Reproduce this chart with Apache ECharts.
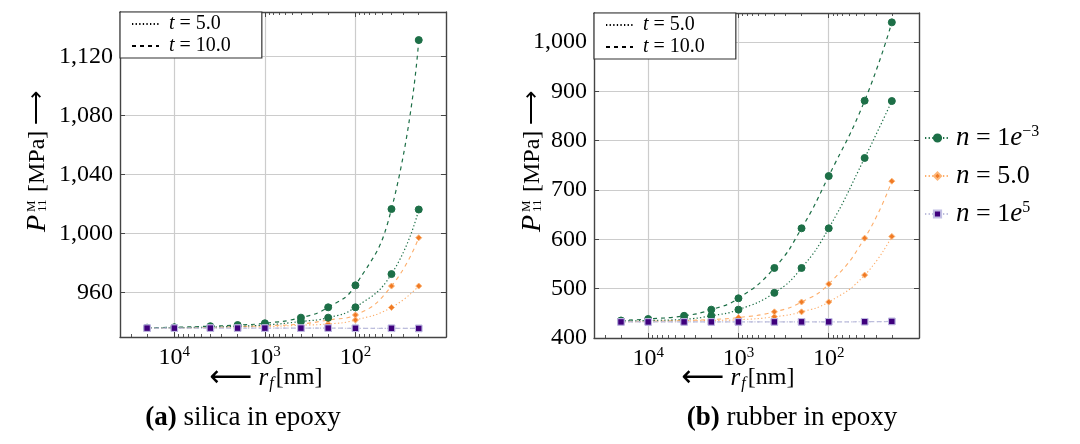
<!DOCTYPE html>
<html><head><meta charset="utf-8">
<script src="https://cdn.jsdelivr.net/npm/echarts@6/dist/echarts.min.js"></script>
<style>html,body{margin:0;padding:0;background:#fff}#c{width:1080px;height:444px}</style>
</head><body><div id="c"></div>
<script>
// ---------- data ----------
const radii = [20000, 10000, 4000, 2000, 1000, 400, 200, 100, 40, 20];

const silicaN1T5  = [936.1, 936.3, 936.7, 937.3, 938.1, 940.5, 943.1, 950.1, 972.6, 1016.3];
const silicaN1T10 = [936.3, 936.6, 937.3, 938.1, 939.3, 943.1, 950.1, 965.0, 1016.6, 1131.0];
const silicaN2T5  = [936.0, 936.1, 936.3, 936.6, 937.0, 938.0, 938.8, 941.5, 950.0, 964.5];
const silicaN2T10 = [936.1, 936.2, 936.5, 937.0, 937.6, 938.8, 941.5, 944.9, 964.5, 997.2];
const silicaN3T5  = [936.0, 936.0, 936.0, 936.0, 936.0, 936.0, 936.0, 935.9, 935.9, 935.8];
const silicaN3T10 = [936.0, 936.0, 936.0, 936.0, 936.0, 936.0, 936.0, 935.9, 935.9, 935.8];

const rubberN1T5  = [434.5, 435.5, 438.0, 445.0, 457.5, 491.5, 542.0, 622.4, 765.0, 880.5];
const rubberN1T10 = [435.5, 438.5, 445.0, 457.5, 480.5, 542.0, 622.4, 728.4, 881.2, 1040.0];
const rubberN2T5  = [433.0, 433.5, 434.5, 435.5, 437.0, 443.0, 453.0, 473.0, 527.5, 606.0];
const rubberN2T10 = [433.5, 434.0, 435.5, 437.5, 441.5, 453.0, 473.0, 509.5, 602.5, 718.0];
const rubberN3T5  = [432.6, 432.6, 432.6, 432.6, 432.6, 432.6, 432.7, 432.8, 433.0, 433.6];
const rubberN3T10 = [432.6, 432.6, 432.6, 432.6, 432.6, 432.6, 432.7, 432.8, 433.0, 433.6];

const xMajorTicks = [10000, 1000, 100];
const xMinorTicks = [30000, 20000, 9000, 8000, 7000, 6000, 5000, 4000, 3000, 2000,
                     900, 800, 700, 600, 500, 400, 300, 200, 90, 80, 70, 60, 50, 40, 30, 20];
const silicaYTicks = [960, 1000, 1040, 1080, 1120];
const rubberYTicks = [400, 500, 600, 700, 800, 900, 1000];

const legendNNames = ['n1', 'n2', 'n3'];
const legendNLabels = {n1: '{i|n} = 1{i|e}{sup|\u22123}', n2: '{i|n} = 5.0', n3: '{i|n} = 1{i|e}{sup|5}'};
const legendTNames = ['t5', 't10'];
const legendTLabels = {t5: '{i|t} = 5.0', t10: '{i|t} = 10.0'};

// ---------- styles ----------
const F = '"Liberation Serif", "Times New Roman", serif';
const XMIN = 10, XMAX = Math.pow(10, 4.6);
const AX = '#444';
const GRIDC = '#cccccc';
const STY = {
  n1: {line: '#1d6f47', fill: '#1d6f47', border: '#1d6f47', symbol: 'circle', size: 7, width: 1.2},
  n2: {line: '#fdae6b', fill: '#f07a25', border: '#fdb77a', symbol: 'diamond', size: 6, width: 1.1},
  n3: {line: '#bcbddc', fill: '#3f007d', border: '#c2bfe4', symbol: 'rect', size: 6.5, width: 1.2}
};
const DASH = {t5: [1.3, 2.3], t10: [4, 4]};

function mk(n, t, vals, xi, yi) {
  const s = STY[n];
  return {
    type: 'line', name: n, xAxisIndex: xi, yAxisIndex: yi,
    data: radii.map((r, i) => [r, vals[i]]),
    smooth: 0.5,
    symbol: s.symbol, symbolSize: s.size, showSymbol: true,
    lineStyle: {color: s.line, width: s.width, type: DASH[t]},
    itemStyle: {color: s.fill, borderColor: s.border, borderWidth: 1},
    emphasis: {disabled: true}, animation: false, z: n === 'n3' ? 4 : (n === 'n1' ? 3 : 2)
  };
}
function dummy(t) {
  return {type: 'line', name: t, xAxisIndex: 0, yAxisIndex: 0, data: [], symbol: 'none',
    lineStyle: {color: '#000', width: 1.1, type: DASH[t]}, itemStyle: {color: 'rgba(0,0,0,0)'}};
}

const supRich = {
  sup: {fontFamily: F, fontSize: 15, lineHeight: 15, verticalAlign: 'top', color: '#000'}
};
function xAxes(grid) {
  const base = {gridIndex: grid, type: 'log', logBase: 10, inverse: true, min: XMIN, max: XMAX,
    splitLine: {show: false}, axisLabel: {show: false}};
  return [
    Object.assign({}, base, {position: 'bottom',
      axisLine: {show: true, lineStyle: {color: AX, width: 1.4}},
      axisTick: {show: true, inside: true, length: 5, customValues: xMajorTicks, lineStyle: {color: AX, width: 1}},
      axisLabel: {show: true, customValues: xMajorTicks, margin: 8,
        formatter: v => '10{sup|' + Math.round(Math.log10(v)) + '}',
        fontFamily: F, fontSize: 24, lineHeight: 26, color: '#000', rich: supRich},
      splitLine: {show: true, lineStyle: {color: GRIDC, width: 1.2}}}),
    Object.assign({}, base, {position: 'top',
      axisLine: {show: true, lineStyle: {color: AX, width: 1.4}},
      axisTick: {show: true, inside: true, length: 5, customValues: xMajorTicks, lineStyle: {color: AX, width: 1}}}),
    Object.assign({}, base, {position: 'bottom', axisLine: {show: false},
      axisTick: {show: true, inside: true, length: 3, customValues: xMinorTicks, lineStyle: {color: AX, width: 0.9}}}),
    Object.assign({}, base, {position: 'top', axisLine: {show: false},
      axisTick: {show: true, inside: true, length: 3, customValues: xMinorTicks, lineStyle: {color: AX, width: 0.9}}})
  ];
}
function yAxes(grid, min, max, ticks) {
  const base = {gridIndex: grid, type: 'value', min: min, max: max, scale: true};
  return [
    Object.assign({}, base, {position: 'left',
      axisLine: {show: true, lineStyle: {color: AX, width: 1.4}},
      axisTick: {show: true, inside: true, length: 5, customValues: ticks, lineStyle: {color: AX, width: 1}},
      axisLabel: {show: true, customValues: ticks, margin: 7, fontFamily: F, fontSize: 24, color: '#000',
        formatter: v => Number(v).toLocaleString('en-US')},
      splitLine: {show: true, lineStyle: {color: GRIDC, width: 1.2}}}),
    Object.assign({}, base, {position: 'right',
      axisLine: {show: true, lineStyle: {color: AX, width: 1.4}},
      axisTick: {show: true, inside: true, length: 5, customValues: ticks, lineStyle: {color: AX, width: 1}},
      axisLabel: {show: false}, splitLine: {show: false}})
  ];
}

const legendRich = {
  i: {fontFamily: F, fontStyle: 'italic', fontSize: 20, color: '#000'},
};
function tLegend(left, top) {
  return {
    data: legendTNames.map(n => ({name: n, itemStyle: {opacity: 0}})),
    orient: 'vertical', left: left, top: top, selectedMode: false,
    backgroundColor: '#fff', borderColor: '#333', borderWidth: 1.2, borderRadius: 0,
    padding: [2, 31, 2, 11], itemGap: 2, itemWidth: 27, itemHeight: 10,
    formatter: n => legendTLabels[n],
    textStyle: {fontFamily: F, fontSize: 20, color: '#000', padding: [0, 0, 0, 5], rich: legendRich}
  };
}

const series = [
  mk('n1', 't5', silicaN1T5, 0, 0), mk('n1', 't10', silicaN1T10, 0, 0),
  mk('n2', 't5', silicaN2T5, 0, 0), mk('n2', 't10', silicaN2T10, 0, 0),
  mk('n3', 't5', silicaN3T5, 0, 0), mk('n3', 't10', silicaN3T10, 0, 0),
  mk('n1', 't5', rubberN1T5, 4, 2), mk('n1', 't10', rubberN1T10, 4, 2),
  mk('n2', 't5', rubberN2T5, 4, 2), mk('n2', 't10', rubberN2T10, 4, 2),
  mk('n3', 't5', rubberN3T5, 4, 2), mk('n3', 't10', rubberN3T10, 4, 2),
  dummy('t5'), dummy('t10')
];

function yLabel(x) {
  return {type: 'group', x: x, y: 232, rotation: Math.PI / 2, silent: true, children: [
    {type: 'text', x: 0, y: -9, style: {text: 'P', fontFamily: F, fontStyle: 'italic', fontSize: 28, fill: '#000', align: 'left', verticalAlign: 'middle'}},
    {type: 'text', x: 20, y: -15.5, style: {text: 'M', fontFamily: F, fontSize: 13, fill: '#000', align: 'left', verticalAlign: 'middle'}},
    {type: 'text', x: 20, y: -4, style: {text: '11', fontFamily: F, fontSize: 13, fill: '#000', align: 'left', verticalAlign: 'middle'}},
    {type: 'text', x: 40, y: -9, style: {text: '[MPa] \u27F6', fontFamily: F, fontSize: 24, fill: '#000', align: 'left', verticalAlign: 'middle'}}
  ]};
}
const xRich = {
  a: {fontFamily: '"DejaVu Sans", sans-serif', fontSize: 30, lineHeight: 28, color: '#000'},
  i: {fontFamily: F, fontStyle: 'italic', fontSize: 25, lineHeight: 28, color: '#000'},
  sub: {fontFamily: F, fontStyle: 'italic', fontSize: 16, lineHeight: 16, verticalAlign: 'bottom', color: '#000', padding: [0, 2, 0, 1]},
  n: {fontFamily: F, fontSize: 24, lineHeight: 28, color: '#000'}
};
function xLabel(cx) {
  return {type: 'text', x: cx, y: 378, silent: true, style: {
    text: '{a|\u27F5} {i|r}{sub|f}{n|[nm]}', rich: xRich, fontFamily: F, fontSize: 24,
    align: 'center', verticalAlign: 'middle', fill: '#000'}};
}
const tRich = {
  b: {fontFamily: F, fontWeight: 'bold', fontSize: 27, color: '#000'},
  r: {fontFamily: F, fontSize: 27, color: '#000'}
};
function title(cx, txt) {
  return {type: 'text', x: cx, y: 418, silent: true, style: {
    text: txt, rich: tRich, fontFamily: F, fontSize: 27, align: 'center', verticalAlign: 'middle', fill: '#000'}};
}

const option = {
  backgroundColor: '#fff',
  animation: false,
  grid: [
    {left: 120, top: 12, width: 326, height: 325, containLabel: false},
    {left: 594, top: 13, width: 325, height: 325, containLabel: false}
  ],
  xAxis: xAxes(0).concat(xAxes(1)),
  yAxis: yAxes(0, 930, 1150, silicaYTicks).concat(yAxes(1, 400, 1059, rubberYTicks)),
  legend: [
    tLegend(120, 12),
    tLegend(594, 13),
    {
      data: legendNNames, orient: 'vertical', left: 924, top: 124, selectedMode: false,
      padding: 0, itemGap: 10, itemWidth: 25, itemHeight: 9,
      formatter: n => legendNLabels[n],
      textStyle: {fontFamily: F, fontSize: 26, color: '#000', lineHeight: 28, padding: [0, 0, 0, 1],
        rich: {
          i: {fontFamily: F, fontStyle: 'italic', fontSize: 27, lineHeight: 28, color: '#000'},
          sup: {fontFamily: F, fontSize: 16, lineHeight: 16, verticalAlign: 'top', color: '#000'}
        }}
    }
  ],
  graphic: [
    yLabel(47), yLabel(542),
    xLabel(266), xLabel(738),
    title(243, '{b|(a)}{r| silica in epoxy}'),
    title(792, '{b|(b)}{r| rubber in epoxy}')
  ],
  series: series
};
const chart = echarts.init(document.getElementById('c'), null, {renderer: 'canvas'});
chart.setOption(option);
</script></body></html>
